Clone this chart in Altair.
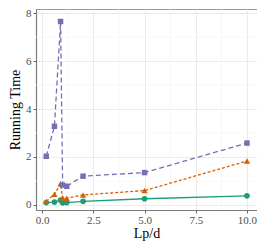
import altair as alt
import pandas as pd

lpd = [0.2, 0.6, 0.9, 1.0, 1.2, 2, 5, 10]
green = [0.10, 0.12, 0.20, 0.09, 0.10, 0.15, 0.26, 0.38]
orange = [0.15, 0.45, 0.88, 0.30, 0.28, 0.42, 0.60, 1.83]
purple = [2.03, 3.28, 7.65, 0.83, 0.78, 1.20, 1.35, 2.58]

x_ticks = [0, 2.5, 5, 7.5, 10]
y_ticks = [0, 2, 4, 6, 8]
x_minor = [1.25, 3.75, 6.25, 8.75]
y_minor = [1, 3, 5, 7]

FONT = "Liberation Serif"

xs = alt.Scale(domain=[-0.3, 10.49], nice=False, zero=False)
ys = alt.Scale(domain=[-0.21, 8.17], nice=False, zero=False)

x_axis = alt.Axis(title="Lp/d", values=x_ticks, format=".1f", labelPadding=1, titlePadding=1)
y_axis = alt.Axis(title="Running Time", values=y_ticks, format="d", labelPadding=2, titlePadding=3)

vminor = alt.Chart(pd.DataFrame({"x": x_minor})).mark_rule(color="#f3f3f3", strokeWidth=0.6).encode(
    x=alt.X("x:Q", scale=xs, axis=x_axis))
hminor = alt.Chart(pd.DataFrame({"y": y_minor})).mark_rule(color="#f3f3f3", strokeWidth=0.6).encode(
    y=alt.Y("y:Q", scale=ys, axis=y_axis))


def series(vals, color, shape, dash, size):
    df = pd.DataFrame({"x": lpd, "y": vals})
    base = alt.Chart(df).encode(
        x=alt.X("x:Q", scale=xs, axis=x_axis),
        y=alt.Y("y:Q", scale=ys, axis=y_axis),
    )
    if dash:
        line = base.mark_line(color=color, strokeWidth=1.3, strokeDash=dash)
    else:
        line = base.mark_line(color=color, strokeWidth=1.3)
    pts = base.mark_point(shape=shape, filled=True, color=color, size=size, opacity=1)
    return line + pts


chart = alt.layer(
    vminor,
    hminor,
    series(green, "#1b9e77", "circle", None, 32),
    series(orange, "#d95f02", "triangle-up", [3, 2], 40),
    series(purple, "#7570b3", "square", [5, 3], 30),
).properties(
    width=221,
    height=201,
    autosize=alt.AutoSizeParams(type="none"),
    padding={"left": 28, "top": 1, "right": 0, "bottom": 31},
).configure(
    font=FONT,
).configure_axis(
    labelFont=FONT,
    titleFont=FONT,
    labelColor="#4d4d4d",
    labelFontSize=11,
    titleFontSize=14,
    titleColor="black",
    titleFontWeight="normal",
    tickColor="#666666",
    tickSize=3,
    domainColor="#7a7a7a",
    domainWidth=1.2,
    gridColor="#ebebeb",
    gridWidth=1,
).configure_view(
    stroke="#9a9a9a",
    strokeWidth=1,
)

chart.save("out.html", embed_options={"renderer": "svg", "actions": False})
